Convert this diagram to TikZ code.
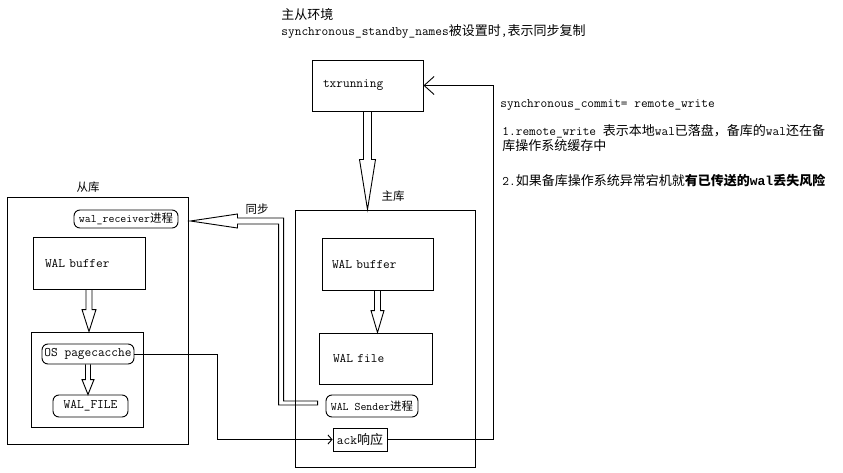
\documentclass[tikz,border=0pt]{standalone}
\usepackage{fontspec}
\newfontfamily\cjk{Noto Sans CJK SC}
\newfontfamily\boldmono{Liberation Mono}
\usetikzlibrary{arrows.meta,calc}
\newcommand{\zh}[1]{{\cjk #1}}
% hollow arrow pointing down: from, to, shaft half width, head half width, head length
\newcommand{\fatdown}[5]{%
  \draw let \p1=(#1), \p2=(#2) in
    (\x1-#3pt,\y1) -- (\x1-#3pt,\y2+#5pt) -- (\x1-#4pt,\y2+#5pt) -- (\x1,\y2)
    -- (\x1+#4pt,\y2+#5pt) -- (\x1+#3pt,\y2+#5pt) -- (\x1+#3pt,\y1);}

\begin{document}
\begin{tikzpicture}[x=1pt,y=-1pt,line width=0.9pt,
    font=\fontsize{13}{16}\selectfont\ttfamily,
    smalltext/.style={font=\fontsize{11.5}{13}\selectfont\ttfamily}]
  \useasboundingbox (0,0) rectangle (843,473);

  % frames of the two databases
  \begin{scope}[every node/.style={draw,inner sep=0pt}]
    \node (primary) [minimum width=180pt,minimum height=257pt] at (385,338.5) {};
    \node (standby) [minimum width=181pt,minimum height=247pt] at (97.5,320.5) {};
    \node (cachebox) [minimum width=112pt,minimum height=95pt] at (87,379.5) {};
  \end{scope}

  % plain boxes
  \begin{scope}[every node/.style={draw,align=left,inner ysep=0pt}]
    \node (tx) [minimum height=51pt,inner xsep=11pt,text width=89pt] at (367.5,85.5) {txrunning};
    \node (pbuf) [minimum height=52pt,inner xsep=10pt,text width=91pt] at (377.5,264) {WAL buffer};
    \node (pfile) [minimum height=51pt,inner xsep=14pt,text width=85pt] at (375.5,358.5) {WAL file};
    \node (sbuf) [minimum height=52pt,inner xsep=12pt,text width=88pt] at (89,263) {WAL buffer};
    \node (ack) [minimum height=23pt,minimum width=54pt,inner xsep=1pt] at (360,439.5) {ack\zh{响应}};
  \end{scope}

  % processes
  \begin{scope}[every node/.style={draw,rounded corners=6pt,inner sep=1pt}]
    \node (receiver) [smalltext,minimum width=104pt,minimum height=18pt] at (126,219) {wal\_receiver\zh{进程}};
    \node (sender) [smalltext,minimum width=92pt,minimum height=22pt] at (372,406) {WAL Sender\zh{进程}};
    \node (cache) [minimum width=92pt,minimum height=20pt] at (88,354) {OS pagecacche};
    \node (walfile) [minimum width=75pt,minimum height=22pt] at (90.5,406) {WAL\_FILE};
  \end{scope}

  % labels and notes
  \begin{scope}[every node/.style={inner sep=0pt}]
    \node (title) [anchor=west,align=left] at (281,23)
      {\zh{主从环境}\\synchronous\_standby\_names\zh{被设置时},\zh{表示同步复制}};
    \node (mainlbl) [smalltext] at (393,196) {\zh{主库}};
    \node (slavelbl) [smalltext] at (88,187) {\zh{从库}};
    \node (synclbl) [smalltext] at (257,209) {\zh{同步}};
    \node (commit) [anchor=west] at (500,105) {synchronous\_commit= remote\_write};
    \node (note1) [anchor=west,align=left,font=\fontsize{13}{15}\selectfont\ttfamily] at (502,138.5)
      {1.remote\_write \zh{表示本地}wal\zh{已落盘，备库的}wal\zh{还在备}\\\zh{库操作系统缓存中}};
    \node (note2) [anchor=west] at (502,181)
      {2.\zh{如果备库操作系统异常宕机就}\textbf{\zh{有已传送的}{\boldmono wal}\zh{丢失风险}}};
  \end{scope}

  % hollow arrows
  \fatdown{tx.south}{primary.north}{4}{8}{50}
  \fatdown{pbuf.south}{pfile.north}{3}{6.5}{22}
  \fatdown{sbuf.south}{cachebox.north}{3}{7}{22}
  \fatdown{cache.south}{walfile.north}{2.5}{6}{15}

  % sync arrow from sender to receiver
  \draw let \p1=(sender.west), \p2=(receiver.east) in
    (\x1-8pt,\y1+5pt) -- (\x1-42pt,\y1+5pt) -- (\x1-42pt,\y2+1pt)
    -- (\x2+59pt,\y2+1pt) -- (\x2+59pt,\y2+5pt) -- (\x2+12pt,\y2-2pt)
    -- (\x2+59pt,\y2-9pt) -- (\x2+59pt,\y2-5pt) -- (\x1-47pt,\y2-5pt)
    -- (\x1-47pt,\y1+1pt) -- (\x1-8pt,\y1+1pt) -- cycle;

  % ack path
  \draw[-{Straight Barb[length=4pt,width=9pt]}] (cache.east) -- ++(83,0) |- (ack.west);
  \draw[-{Straight Barb[length=10pt,width=18pt]}] (ack.east) -- ++(106,0) |- (tx.east);
\end{tikzpicture}
\end{document}
